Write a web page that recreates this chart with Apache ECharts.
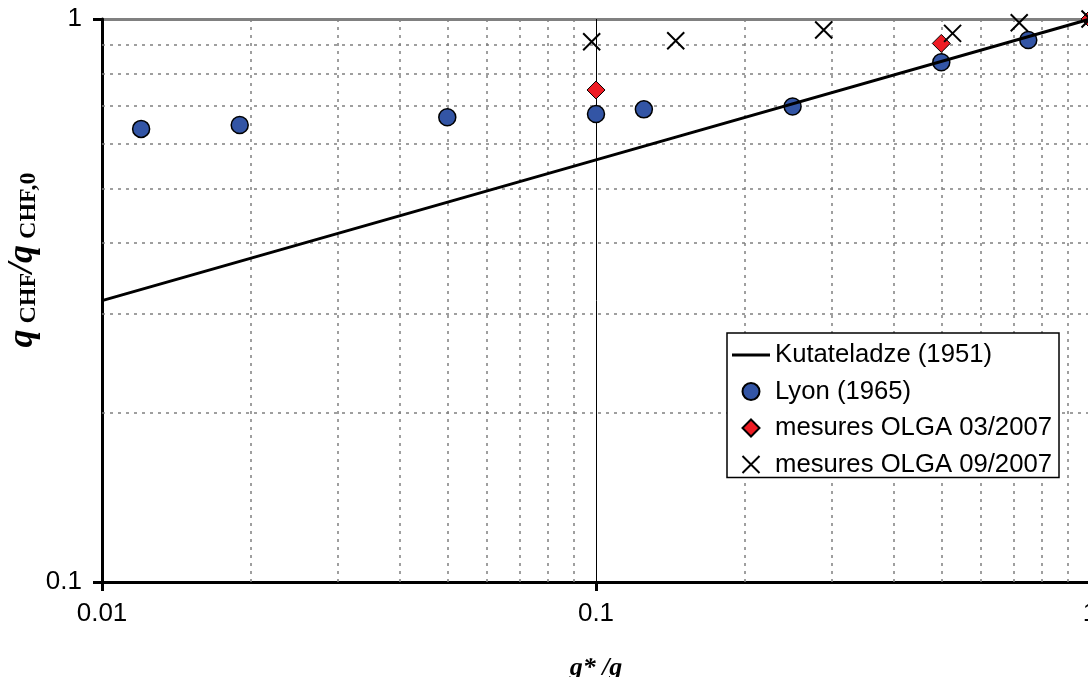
<!DOCTYPE html>
<html>
<head>
<meta charset="utf-8">
<script src="https://cdn.jsdelivr.net/npm/echarts@6/dist/echarts.min.js"></script>
<style>
html,body{margin:0;padding:0;background:#fff;}
#c{width:1088px;height:677px;}
</style>
</head>
<body>
<div id="c"></div>
<script>
// ---- data ----
const xTicks = [0.01, 0.1, 1];
const yTicks = [0.1, 1];
const minorX = [0.02, 0.03, 0.04, 0.05, 0.06, 0.07, 0.08, 0.09, 0.2, 0.3, 0.4, 0.5, 0.6, 0.7, 0.8, 0.9];
const minorY = [0.2, 0.3, 0.4, 0.5, 0.6, 0.7, 0.8, 0.9];

const kutX = [0.01, 0.1, 1];
const kutY = [0.316, 0.562, 1];

const lyonX = [0.012, 0.019, 0.05, 0.1, 0.125, 0.25, 0.5, 0.75];
const lyonY = [0.638, 0.648, 0.669, 0.678, 0.691, 0.699, 0.838, 0.918];

const olga03X = [0.1, 0.5, 1];
const olga03Y = [0.748, 0.905, 1];

const olga09X = [0.098, 0.145, 0.289, 0.527, 0.719, 1];
const olga09Y = [0.911, 0.915, 0.956, 0.943, 0.985, 1];

const names = ['Kutateladze (1951)', 'Lyon (1965)', 'mesures OLGA 03/2007', 'mesures OLGA 09/2007'];

function pairs(xs, ys) { return xs.map((x, i) => [x, ys[i]]); }

const sans = 'Liberation Sans';
const serif = 'Liberation Serif';
const gridDot = { color: '#808080', width: 1.5, type: [3, 5] };
const crossPath = 'path://M0 0L10 10M10 0L0 10';
const diamondPath = 'path://M5 0L10 5L5 10L0 5Z';

const chart = echarts.init(document.getElementById('c'), null, { renderer: 'canvas' });
chart.setOption({
  backgroundColor: '#fff',
  animation: false,
  grid: { left: 102, right: -2, top: 19, bottom: 95, outerBoundsMode: 'none', containLabel: false },
  xAxis: {
    type: 'log', logBase: 10, min: xTicks[0], max: xTicks[xTicks.length - 1],
    name: 'g* /g', nameLocation: 'middle', nameGap: 73,
    nameTextStyle: { fontFamily: serif, fontStyle: 'italic', fontWeight: 'bold', fontSize: 26, color: '#000' },
    axisLine: { show: true, onZero: false, lineStyle: { color: '#000', width: 3 } },
    axisTick: { show: true, inside: false, length: 9, lineStyle: { color: '#000', width: 3 } },
    axisLabel: { margin: 19, fontFamily: sans, fontSize: 26, color: '#000',
      formatter: v => { const t = xTicks.find(k => Math.abs(k - v) / k < 1e-6); return t !== undefined ? String(t) : ''; } },
    splitLine: { show: true, lineStyle: { color: '#000', width: 1 } },
    minorTick: { show: false }, minorSplitLine: { show: false }
  },
  yAxis: {
    type: 'log', logBase: 10, min: yTicks[0], max: yTicks[yTicks.length - 1],
    axisLine: { show: true, onZero: false, lineStyle: { color: '#000', width: 3 } },
    axisTick: { show: true, inside: false, length: 9, lineStyle: { color: '#000', width: 3 } },
    axisLabel: { margin: 20, fontFamily: sans, fontSize: 26, color: '#000',
      formatter: v => { const t = yTicks.find(k => Math.abs(k - v) / k < 1e-6); return t !== undefined ? String(t) : ''; } },
    splitLine: { show: true, lineStyle: { color: '#808080', width: 3 } },
    minorTick: { show: false }, minorSplitLine: { show: false }
  },
  legend: {
    orient: 'vertical', left: 727, top: 333,
    data: [
      { name: names[0], icon: 'path://M0 0H38V3H0Z' },
      { name: names[1], icon: 'circle' },
      { name: names[2], icon: diamondPath },
      { name: names[3], icon: crossPath }
    ],
    backgroundColor: '#fff', borderColor: '#000', borderWidth: 1.5,
    padding: [9, 7, 0, 5], itemGap: 10.5, itemWidth: 38, itemHeight: 17,
    symbolKeepAspect: true,
    textStyle: { fontFamily: sans, fontSize: 25.7, color: '#000', lineHeight: 26 },
    selectedMode: false
  },
  graphic: [{
    type: 'text', x: 24, y: 260, rotation: Math.PI / 2, silent: true,
    style: {
      text: '{q|q}{s| CHF}{q|/q}{s| CHF,0}',
      align: 'center', verticalAlign: 'middle', fill: '#000',
      rich: {
        q: { fontFamily: serif, fontStyle: 'italic', fontWeight: 'bold', fontSize: 36, lineHeight: 34, verticalAlign: 'bottom', fill: '#000' },
        s: { fontFamily: serif, fontWeight: 'bold', fontSize: 24, lineHeight: 16, verticalAlign: 'bottom', fill: '#000' }
      }
    }
  }],
  series: [
    {
      name: names[0], type: 'line', data: pairs(kutX, kutY), symbol: 'none', showSymbol: false,
      lineStyle: { color: '#000', width: 3 }, itemStyle: { color: '#000' },
      markLine: {
        silent: true, symbol: ['none', 'none'], z: 1, label: { show: false },
        lineStyle: gridDot, emphasis: { disabled: true },
        data: minorX.map(v => ({ xAxis: v })).concat(minorY.map(v => ({ yAxis: v })))
      }
    },
    {
      name: names[1], type: 'scatter', data: pairs(lyonX, lyonY), symbol: 'circle', symbolSize: 17,
      itemStyle: { color: '#3355a5', borderColor: '#000', borderWidth: 1.5, opacity: 1 }
    },
    {
      name: names[2], type: 'scatter', data: pairs(olga03X, olga03Y), symbol: diamondPath, symbolSize: 18,
      itemStyle: { color: '#ee1c24', borderColor: '#000', borderWidth: 1, opacity: 1 }
    },
    {
      name: names[3], type: 'scatter', data: pairs(olga09X, olga09Y), symbol: crossPath, symbolSize: 17,
      itemStyle: { color: '#000', borderColor: '#000', borderWidth: 2, opacity: 1 }
    }
  ]
});
</script>
</body>
</html>
